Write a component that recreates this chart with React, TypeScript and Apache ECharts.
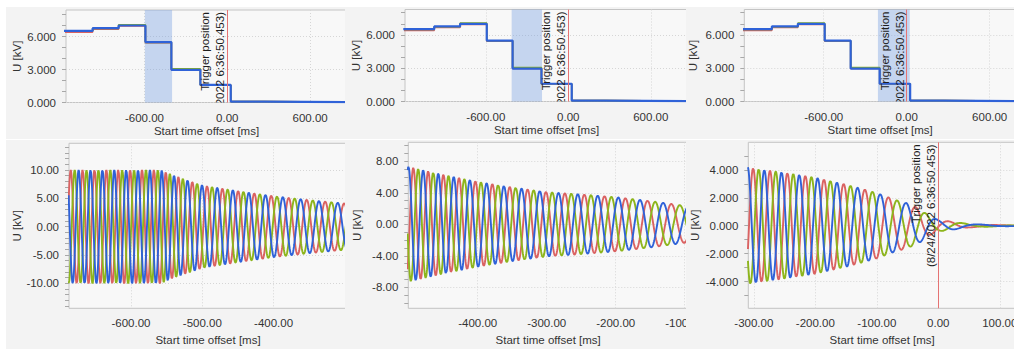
import React, { useEffect, useRef } from 'react';
import * as echarts from 'echarts';

// ---------- RMS step data (top row) ----------
const stepTimes = [-1200, -975, -787, -593, -405, -195, 25, 265, 950];
const rmsRed = [6.40, 6.67, 6.95, 5.43, 2.97, 1.58, 0.08, 0.03];
const rmsGreen = [6.50, 6.74, 7.06, 5.47, 3.06, 1.60, 0.08, 0.03];
const rmsBlue = [6.52, 6.76, 7.00, 5.49, 2.97, 1.60, 0.08, 0.03];

// ---------- waveform envelope / frequency (bottom row) ----------
const envTimes = [-700, -558, -545, -530, -500, -450, -400, -350, -300, -250, -200, -150, -100, -70, -50, -30, -15, 0, 20, 50, 100, 150];
const envKv = [10.0, 10.0, 9.3, 8.6, 7.3, 6.3, 5.4, 4.7, 4.1, 3.8, 3.45, 2.95, 2.35, 1.85, 1.6, 1.2, 0.7, 0.4, 0.3, 0.12, 0.04, 0.02];
const freqTimes = [-700, -555, -520, -480, -450, -400, -300, -200, -150, -100, -50, 0, 50, 150];
const freqHz = [60, 60, 50, 46, 45, 41, 37, 33, 30, 26, 22, 18, 12, 8];
const phaseRefTime = -310; // blue phase at its peak here

// ---------- ticks ----------
const rmsXTicks = [-600, 0, 600];
const rmsYTicks = [0, 3, 6];
const w1XTicks = [-600, -500, -400];
const w1YTicks = [-10, -5, 0, 5, 10];
const w2XTicks = [-400, -300, -200, -100];
const w2YTicks = [-8, -4, 0, 4, 8];
const w3XTicks = [-300, -200, -100, 0, 100];
const w3YTicks = [-4, -2, 0, 2, 4];

const TRIGGER_TEXT = 'Trigger position\n(8/24/2022 6:36:50.453)';
const X_NAME = 'Start time offset [ms]';
const Y_NAME = 'U [kV]';

const RED = '#da6262';
const GREEN = '#8db51c';
const BLUE = '#2f62d8';
const FONT = '"Liberation Sans", Arial, sans-serif';
const TXT = '#333333';
const PANEL_BG = '#f3f3f3';
const PLOT_BG = '#f8f8f8';
const BORDER = '#c4c4c4';

function interp(ts: number[], vs: number[], t: number) {
  if (t <= ts[0]) return vs[0];
  for (let i = 1; i < ts.length; i++) {
    if (t <= ts[i]) {
      const f = (t - ts[i - 1]) / (ts[i] - ts[i - 1]);
      return vs[i - 1] + f * (vs[i] - vs[i - 1]);
    }
  }
  return vs[vs.length - 1];
}

// build three-phase waves from the read envelope and frequency profile
const DT = 0.5;
const wT: number[] = [];
const wPh: number[] = [];
{
  let ph = 0;
  for (let t = -700; t <= 150; t += DT) {
    wT.push(t);
    wPh.push(ph);
    ph += 2 * Math.PI * interp(freqTimes, freqHz, t) * DT / 1000;
  }
}
const refIdx = Math.round((phaseRefTime + 700) / DT);
const refPh = wPh[refIdx];

function wave(shift: number, lo: number, hi: number) {
  const out: number[][] = [];
  for (let i = 0; i < wT.length; i++) {
    const t = wT[i];
    if (t < lo - 1 || t > hi + 1) continue;
    const a = interp(envTimes, envKv, t);
    out.push([t, a * Math.cos(wPh[i] - refPh - shift)]);
  }
  return out;
}

function steps(vals: number[]) {
  return stepTimes.map((t, i) => [t, vals[Math.min(i, vals.length - 1)]]);
}

type Panel = {
  kind: 'rms' | 'wave';
  box: number[];
  plotL: number; plotT: number; plotB: number;
  xRefVal: number; xRefPx: number; xPx: number;
  y0Px: number; yPx: number;
  xTicks: number[]; yTicks: number[]; yDec: number;
  shade?: number[];
  trigger: boolean;
  yNameGap: number;
  xNameGap: number;
};

const panels: Panel[] = [
  { kind: 'rms', box: [6, 7, 339, 132], plotL: 66, plotT: 10, plotB: 102.5, xRefVal: 0, xRefPx: 227.3, xPx: 0.13808, y0Px: 102.5, yPx: 11, xTicks: rmsXTicks, yTicks: rmsYTicks, yDec: 3, shade: [-597, -400], trigger: true, yNameGap: 43.5, xNameGap: 22 },
  { kind: 'rms', box: [345, 7, 341, 132], plotL: 405, plotT: 9.5, plotB: 101.5, xRefVal: 0, xRefPx: 568.3, xPx: 0.1375, y0Px: 101.5, yPx: 11.1, xTicks: rmsXTicks, yTicks: rmsYTicks, yDec: 3, shade: [-412, -191], trigger: true, yNameGap: 43.5, xNameGap: 22.5 },
  { kind: 'rms', box: [686, 7, 328, 132], plotL: 744.3, plotT: 9.5, plotB: 101.5, xRefVal: 0, xRefPx: 906.7, xPx: 0.1383, y0Px: 101.5, yPx: 11.1, xTicks: rmsXTicks, yTicks: rmsYTicks, yDec: 3, shade: [-208, 22], trigger: true, yNameGap: 45, xNameGap: 22.5 },
  { kind: 'wave', box: [6, 140, 339, 209], plotL: 69, plotT: 143.3, plotB: 308.3, xRefVal: -500, xRefPx: 202.3, xPx: 0.713, y0Px: 226.7, yPx: 5.667, xTicks: w1XTicks, yTicks: w1YTicks, yDec: 2, trigger: false, yNameGap: 46, xNameGap: 25.5 },
  { kind: 'wave', box: [345, 140, 341, 209], plotL: 408.3, plotT: 142.3, plotB: 308.3, xRefVal: -300, xRefPx: 546.7, xPx: 0.69, y0Px: 224.3, yPx: 7.875, xTicks: w2XTicks, yTicks: w2YTicks, yDec: 2, trigger: false, yNameGap: 45, xNameGap: 25.5 },
  { kind: 'wave', box: [686, 140, 328, 209], plotL: 748.3, plotT: 142.3, plotB: 308.3, xRefVal: 0, xRefPx: 938.3, xPx: 0.615, y0Px: 225.7, yPx: 13.96, xTicks: w3XTicks, yTicks: w3YTicks, yDec: 3, trigger: true, yNameGap: 47, xNameGap: 25.5 },
];

function buildOption(p: Panel) {
  const [bl, bt, bw] = p.box;
  const gLeft = p.plotL - bl;
  const gTop = p.plotT - bt;
  const gWidth = bl + bw + 2 - p.plotL;
  const gHeight = p.plotB - p.plotT;
  const xMin = p.xRefVal - (p.xRefPx - p.plotL) / p.xPx;
  const xMax = xMin + gWidth / p.xPx;
  const yMax = (p.y0Px - p.plotT) / p.yPx;
  const yMin = -(p.plotB - p.y0Px) / p.yPx;
  const minor: number[] = [];
  for (let v = Math.ceil(yMin); v <= Math.floor(yMax); v++) minor.push(v);

  const labelStyle = { color: TXT, fontSize: 11.5, fontFamily: FONT };
  const series: any[] = [];
  const colors = [RED, GREEN, BLUE];
  if (p.kind === 'rms') {
    const vals = [rmsRed, rmsGreen, rmsBlue];
    vals.forEach((v, i) => {
      series.push({
        type: 'line', step: 'end', data: steps(v), showSymbol: false, symbol: 'none',
        lineStyle: { color: colors[i], width: i === 2 ? 2.2 : 1.6 }, z: 2 + i,
      });
    });
  } else {
    const shifts = [2 * Math.PI / 3, 4 * Math.PI / 3, 0];
    shifts.forEach((s, i) => {
      series.push({
        type: 'line', data: wave(s, xMin, xMax), showSymbol: false, symbol: 'none',
        lineStyle: { color: colors[i], width: 1.9 }, z: 2 + i,
      });
    });
  }
  if (p.shade) {
    series[0].markArea = {
      silent: true,
      itemStyle: { color: 'rgba(120,160,225,0.40)' },
      data: [[{ xAxis: p.shade[0] }, { xAxis: p.shade[1] }]],
    };
  }
  if (p.trigger) {
    series[0].markLine = {
      silent: true, symbol: ['none', 'none'], label: { show: false },
      lineStyle: { color: '#e57373', width: 1, type: 'solid' },
      data: [{ xAxis: 0 }],
    };
    series.push({
      type: 'custom', clip: true, silent: true, z: 10,
      data: [[0, yMax]],
      renderItem: (params: any, api: any) => {
        const pt = api.coord([0, yMax]);
        return {
          type: 'text', x: pt[0] + 0.5, y: pt[1] + 2, rotation: Math.PI / 2,
          style: {
            text: TRIGGER_TEXT, fill: '#1e1e1e', font: '11.5px ' + FONT,
            align: 'right', verticalAlign: 'bottom', lineHeight: 15,
          },
        };
      },
    });
  }

  return {
    animation: false,
    textStyle: { fontFamily: FONT },
    grid: {
      left: gLeft, top: gTop, width: gWidth, height: gHeight, show: true,
      containLabel: false, outerBoundsMode: 'none',
      backgroundColor: PLOT_BG, borderColor: BORDER, borderWidth: 1,
    },
    xAxis: {
      type: 'value', min: xMin, max: xMax,
      axisLine: { show: false },
      axisTick: { show: false, customValues: p.xTicks },
      axisLabel: { ...labelStyle, customValues: p.xTicks, margin: 9, formatter: (v: number) => v.toFixed(2) },
      splitLine: { show: true, lineStyle: { color: '#d6d6d6', type: [1, 2] } },
      name: X_NAME, nameLocation: 'middle', nameGap: p.xNameGap, nameMoveOverlap: false,
      nameTextStyle: { ...labelStyle },
    },
    yAxis: [
      {
        type: 'value', min: yMin, max: yMax,
        axisLine: { show: false },
        axisTick: { show: false, customValues: p.yTicks },
        axisLabel: { ...labelStyle, customValues: p.yTicks, margin: 10, formatter: (v: number) => v.toFixed(p.yDec) },
        splitLine: { show: true, lineStyle: { color: '#d6d6d6', type: [1, 2] } },
        name: Y_NAME, nameLocation: 'middle', nameGap: p.yNameGap, nameMoveOverlap: false,
        nameTextStyle: { ...labelStyle },
      },
      {
        type: 'value', min: yMin, max: yMax, position: 'left', offset: 0,
        axisLine: { show: false },
        axisLabel: { show: false },
        splitLine: { show: false },
        axisTick: { show: true, customValues: minor, length: 4, lineStyle: { color: '#a8a8a8' } },
      },
    ],
    series,
  };
}

export default function App() {
  const refs = useRef<(HTMLDivElement | null)[]>([]);
  useEffect(() => {
    const charts = panels.map((p, i) => {
      const el = refs.current[i]!;
      const c = echarts.init(el, undefined, { renderer: 'svg' });
      c.setOption(buildOption(p) as any);
      return c;
    });
    return () => charts.forEach((c) => c.dispose());
  }, []);
  return (
    <div style={{ position: 'absolute', left: 0, top: 0, width: 1014, height: 349, background: '#ffffff', overflow: 'hidden' }}>
      {panels.map((p, i) => (
        <div key={i} style={{ position: 'absolute', left: p.box[0], top: p.box[1], width: p.box[2], height: p.box[3], background: PANEL_BG, overflow: 'hidden' }}>
          <div ref={(el) => { refs.current[i] = el; }} style={{ width: p.box[2], height: p.box[3] }} />
        </div>
      ))}
    </div>
  );
}
